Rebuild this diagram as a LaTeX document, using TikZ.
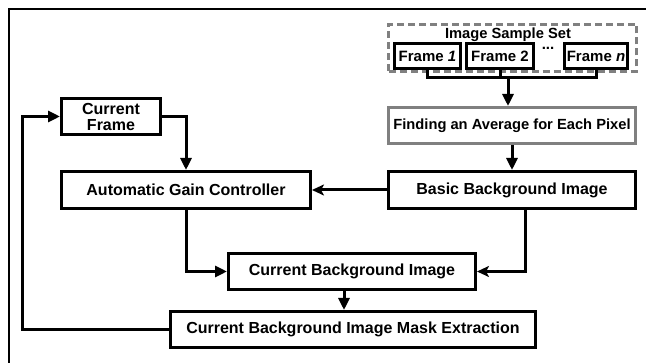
\documentclass[tikz,border=0pt]{standalone}
\usepackage{fontspec}
\setmainfont{Liberation Sans}
\usetikzlibrary{arrows.meta}
\definecolor{boxgray}{HTML}{808080}
\tikzset{
  blk/.style={draw=black, line width=3pt, inner sep=0pt, font=\bfseries\fontsize{16}{17}\selectfont, align=center},
  frm/.style={draw=black, line width=3pt, inner sep=0pt, minimum height=25pt, font=\bfseries\fontsize{15}{16}\selectfont},
  conn/.style={line width=3pt, line cap=butt, line join=miter},
  tri/.style={conn, -{Triangle[length=12pt,width=11pt]}},
  stl/.style={conn, -{Stealth[length=12pt,width=11pt,inset=3pt]}}
}
\begin{document}
\begin{tikzpicture}[x=1pt,y=-1pt]
\useasboundingbox (0,0) rectangle (646,363);
\draw[line width=2pt] (9,363) -- (9,9) -- (646,9);

% image sample set
\node[draw=boxgray, line width=3pt, dash pattern=on 7pt off 4pt, minimum width=248pt, minimum height=47pt, inner sep=0pt] (set) at (512.5,48) {};
\node[font=\bfseries\fontsize{14.7}{15}\selectfont, inner sep=0pt] (settitle) at (508,35) {Image Sample Set};
\node[frm, minimum width=66pt] (F1) at (427.5,56.5) {Frame \textit{1}};
\node[frm, minimum width=67pt] (F2) at (500,56.5) {Frame 2};
\node[frm, minimum width=63pt] (Fn) at (596,56.5) {Frame \textit{n}};
\node[font=\bfseries\fontsize{15}{16}\selectfont, inner sep=0pt, text height=3pt, text depth=0pt, anchor=base] (dots) at (548,50) {...};

\node[blk, draw=boxgray, minimum width=247pt, minimum height=36pt, font=\bfseries\fontsize{14.7}{15}\selectfont] (find) at (512,125.5) {Finding an Average for Each Pixel};
\node[blk, minimum width=247pt, minimum height=37pt] (basic) at (512,190) {Basic Background Image};
\node[blk, minimum width=249pt, minimum height=37pt] (agc) at (186,190) {Automatic Gain Controller};
\node[blk, minimum width=99pt, minimum height=36pt] (cf) at (111,116.5) {Current\\[-1pt]Frame};
\node[blk, minimum width=247pt, minimum height=36pt] (cbi) at (352,271.5) {Current Background Image};
\node[blk, minimum width=365pt, minimum height=36pt] (mask) at (353,329.5) {Current Background Image Mask Extraction};

% connectors
\coordinate (bar) at (508,78);
\coordinate (fbk) at (22,200);
\coordinate (bdrop) at (525,230);
\coordinate (cdrop) at (344,300);
\draw[conn] (F1.south) |- (Fn.south |- bar) -- (Fn.south);
\draw[conn] (F2.south) -- (F2.south |- bar);
\draw[tri] (bar) -- (bar |- find.north);
\draw[tri] (find.south) -- (basic.north);
\draw[stl] (basic.west) -- (agc.east);
\draw[tri] (cf.east) -| (agc.north);
\draw[tri] (agc.south) |- (cbi.west);
\draw[stl] (bdrop |- basic.south) |- (cbi.east);
\draw[tri] (cdrop |- cbi.south) -- (cdrop |- mask.north);
\draw[tri] (mask.west) -| (fbk) |- (cf.west);
\end{tikzpicture}
\end{document}
